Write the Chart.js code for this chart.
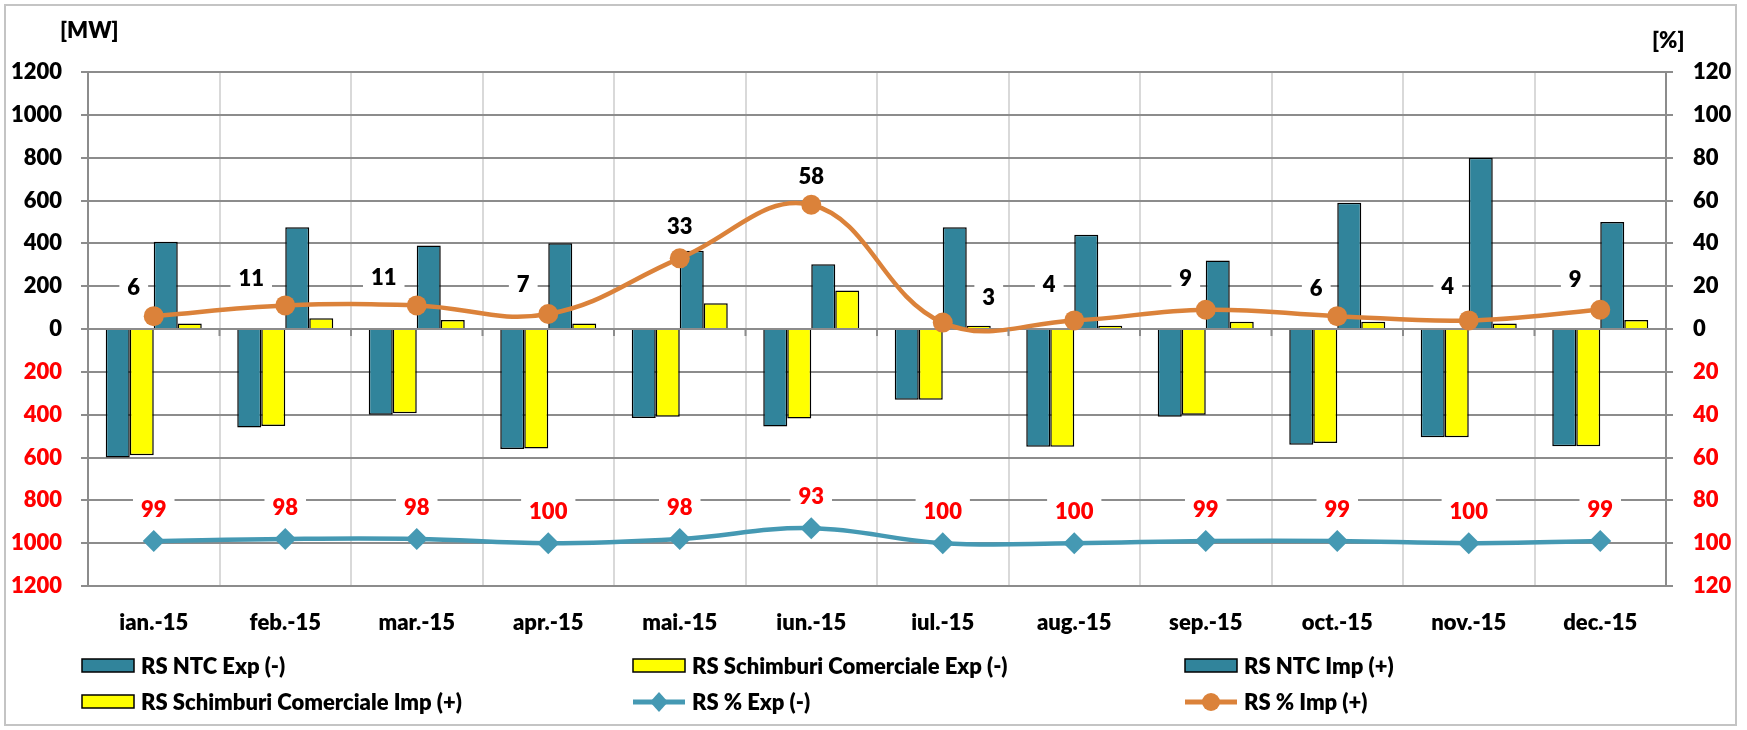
<!DOCTYPE html>
<html>
<head>
<meta charset="utf-8">
<script src="https://cdn.jsdelivr.net/npm/chart.js@4.4.1/dist/chart.umd.min.js"></script>
<style>
html, body { margin: 0; padding: 0; background: #fff; }
#wrap { position: relative; width: 1747px; height: 730px; }
#frame { position: absolute; left: 4px; top: 4px; width: 1729px; height: 718px; border: 2px solid #c4c4c4; pointer-events: none; }
canvas { display: block; }
</style>
</head>
<body>
<div id="wrap">
	<canvas id="rsChart" width="1747" height="730"></canvas>
	<div id="frame"></div>
</div>
<script>
const months = ["ian.-15", "feb.-15", "mar.-15", "apr.-15", "mai.-15", "iun.-15", "iul.-15", "aug.-15", "sep.-15", "oct.-15", "nov.-15", "dec.-15"];

const ntcExp = [-600, -460, -400, -560, -415, -455, -330, -550, -410, -540, -505, -548];
const schimbExp = [-590, -453, -393, -558, -410, -418, -330, -550, -400, -532, -505, -548];
const ntcImp = [407, 475, 390, 400, 365, 302, 475, 440, 320, 590, 800, 500];
const schimbImp = [26, 50, 42, 26, 120, 180, 15, 15, 34, 34, 26, 42];

const pctExp = [-99, -98, -98, -100, -98, -93, -100, -100, -99, -99, -100, -99];
const pctImp = [6, 11, 11, 7, 33, 58, 3, 4, 9, 6, 4, 9];

const mwLimits = [-1200, 1200, 200];
const pctLimits = [-120, 120, 20];

const teal = "#31849b";
const yellow = "#ffff00";
const FONT = "Lato, 'Open Sans', sans-serif";
const WEIGHT = "800";

// nudges for the Imp % labels, like the hand-moved labels in the original
const impLabelShift = [[-20, -29], [-34, -28], [-33, -29], [-25, -30], [0, -32], [0, -29], [46, -26], [-25, -37], [-20, -32], [-21, -28], [-21, -35], [-25, -31]];

const negRed = (ctx) => (ctx.tick.value < 0 ? "#ff0000" : "#000000");
const tickFont = { family: FONT, size: 22, weight: WEIGHT };

const decor = {
	id: "decor",
	afterDatasetsDraw(chart) {
		const ctx = chart.ctx;
		ctx.save();
		ctx.font = WEIGHT + " 22px " + FONT;
		ctx.textAlign = "center";
		ctx.textBaseline = "middle";
		chart.data.datasets.forEach((ds, di) => {
			if (ds.type !== "line") return;
			const meta = chart.getDatasetMeta(di);
			meta.data.forEach((pt, i) => {
				const txt = String(Math.abs(ds.data[i]));
				const sh = ds.isImp ? impLabelShift[i] : [0, -32];
				const x = pt.x + sh[0];
				const y = pt.y + sh[1];
				const w = ctx.measureText(txt).width + 16;
				ctx.fillStyle = "#ffffff";
				ctx.fillRect(x - w / 2, y - 13, w, 26);
				ctx.fillStyle = ds.isImp ? "#000000" : "#ff0000";
				ctx.fillText(txt, x, y + 1);
			});
		});
		ctx.restore();
	},
	afterDraw(chart) {
		const ctx = chart.ctx;
		const area = chart.chartArea;
		const y0 = chart.scales.y.getPixelForValue(0);
		const step = (area.right - area.left) / months.length;
		ctx.save();
		// small x-axis ticks on the zero line
		ctx.strokeStyle = "#8c8c8c";
		ctx.lineWidth = 2;
		for (let i = 1; i < months.length; i++) {
			const x = area.left + i * step;
			ctx.beginPath();
			ctx.moveTo(x, y0);
			ctx.lineTo(x, y0 + 7);
			ctx.stroke();
		}
		// unit titles
		ctx.fillStyle = "#000";
		ctx.font = WEIGHT + " 22px " + FONT;
		ctx.textBaseline = "middle";
		ctx.textAlign = "left";
		ctx.fillText("[MW]", 60, 31);
		ctx.fillText("[%]", 1652, 41);

		// legend, 3 columns
		const colX = [82, 633, 1185];
		const rowY = [666, 702];
		chart.data.datasets.forEach((ds, i) => {
			const cx = colX[i % 3];
			const cy = rowY[Math.floor(i / 3)];
			if (ds.type === "line") {
				ctx.strokeStyle = ds.borderColor;
				ctx.lineWidth = 5;
				ctx.beginPath();
				ctx.moveTo(cx, cy);
				ctx.lineTo(cx + 52, cy);
				ctx.stroke();
				ctx.fillStyle = ds.borderColor;
				ctx.beginPath();
				if (ds.pointStyle === "rectRot") {
					ctx.moveTo(cx + 26, cy - 10);
					ctx.lineTo(cx + 35, cy);
					ctx.lineTo(cx + 26, cy + 10);
					ctx.lineTo(cx + 17, cy);
					ctx.closePath();
				} else {
					ctx.arc(cx + 26, cy, 9, 0, Math.PI * 2);
				}
				ctx.fill();
			} else {
				ctx.fillStyle = ds.backgroundColor;
				ctx.fillRect(cx, cy - 7, 52, 13);
				ctx.strokeStyle = "#000";
				ctx.lineWidth = 1.5;
				ctx.strokeRect(cx, cy - 7, 52, 13);
			}
			ctx.fillStyle = "#000";
			ctx.font = WEIGHT + " 22px " + FONT;
			ctx.fillText(ds.label, cx + 59, cy + 1);
		});
		ctx.restore();
	}
};

const barStyle = { borderColor: "#000000", borderWidth: 1.5, yAxisID: "y", order: 1 };

new Chart(document.getElementById("rsChart"), {
	type: "bar",
	data: {
		labels: months,
		datasets: [
			{ label: "RS NTC Exp (-)", data: ntcExp, backgroundColor: teal, ...barStyle },
			{ label: "RS Schimburi Comerciale Exp (-)", data: schimbExp, backgroundColor: yellow, ...barStyle },
			{ label: "RS NTC Imp (+)", data: ntcImp, backgroundColor: teal, ...barStyle },
			{ label: "RS Schimburi Comerciale Imp (+)", data: schimbImp, backgroundColor: yellow, ...barStyle },
			{
				type: "line",
				label: "RS % Exp (-)",
				data: pctExp,
				yAxisID: "y2",
				order: 0,
				borderColor: "#4599b3",
				backgroundColor: "#4599b3",
				borderWidth: 4.5,
				pointStyle: "rectRot",
				pointRadius: 11,
				pointBorderWidth: 0,
				tension: 0.4
			},
			{
				type: "line",
				label: "RS % Imp (+)",
				data: pctImp,
				yAxisID: "y2",
				order: 0,
				isImp: true,
				borderColor: "#db823a",
				backgroundColor: "#db823a",
				borderWidth: 4.5,
				pointStyle: "circle",
				pointRadius: 10,
				pointBorderWidth: 0,
				tension: 0.4
			}
		]
	},
	options: {
		responsive: false,
		animation: false,
		layout: { padding: { top: 72, bottom: 84, left: 0, right: 0 } },
		datasets: { bar: { categoryPercentage: 0.73, barPercentage: 1 } },
		plugins: { legend: { display: false }, tooltip: { enabled: false } },
		scales: {
			x: {
				offset: true,
				grid: { color: "#d9d9d9", lineWidth: 2, offset: true, drawTicks: false },
				border: { display: false },
				ticks: { color: "#000", font: tickFont, padding: 24 },
				afterFit(s) { s.height = 60; s.paddingLeft = 0; s.paddingRight = 0; }
			},
			y: {
				position: "left",
				min: mwLimits[0],
				max: mwLimits[1],
				ticks: { stepSize: mwLimits[2], callback: (v) => Math.abs(v), color: negRed, font: tickFont, padding: 19 },
				grid: { color: "#8c8c8c", lineWidth: 2, tickLength: 7 },
				border: { color: "#8c8c8c", width: 2 },
				afterFit(s) { s.width = 88; s.paddingTop = 0; s.paddingBottom = 0; }
			},
			y2: {
				position: "right",
				min: pctLimits[0],
				max: pctLimits[1],
				ticks: { stepSize: pctLimits[2], callback: (v) => Math.abs(v), color: negRed, font: tickFont, padding: 20 },
				grid: { drawOnChartArea: false, color: "#8c8c8c", lineWidth: 2, tickLength: 7 },
				border: { color: "#8c8c8c", width: 2 },
				afterFit(s) { s.width = 81; s.paddingTop = 0; s.paddingBottom = 0; }
			}
		}
	},
	plugins: [decor]
});
</script>
</body>
</html>
